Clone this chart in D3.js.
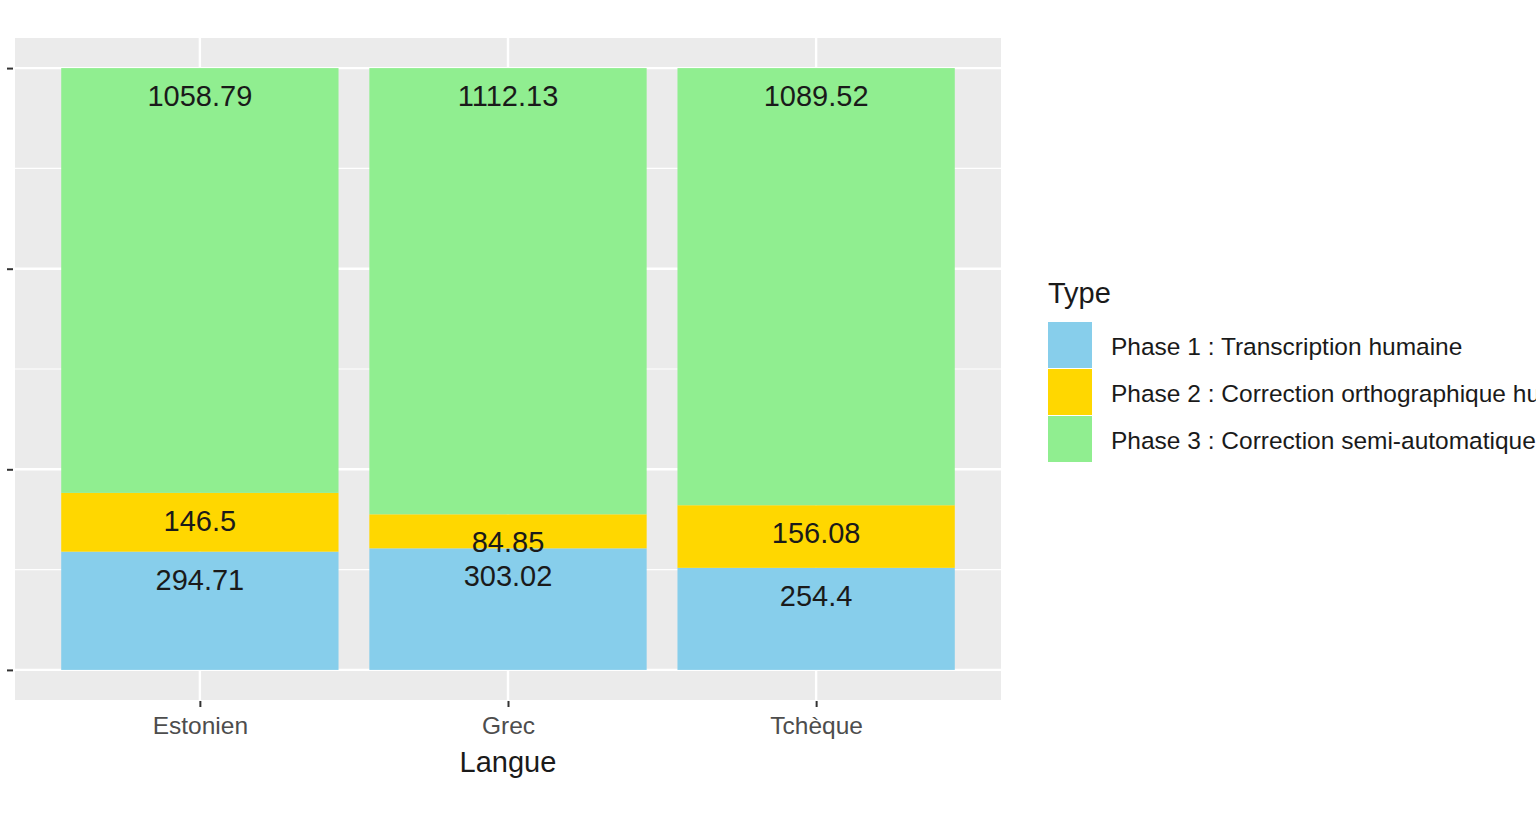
<!DOCTYPE html>
<html>
<head>
<meta charset="utf-8">
<script src="https://cdn.jsdelivr.net/npm/d3@7"></script>
<style>
  body { margin: 0; background: #fff; overflow: hidden; }
  text { font-family: "Liberation Sans", Arial, sans-serif; }
</style>
</head>
<body>
<div id="wrapper"></div>
<script>
// data
var langues = ["Estonien", "Grec", "Tchèque"];
var phases = [
    "Phase 1 : Transcription humaine",
    "Phase 2 : Correction orthographique humaine",
    "Phase 3 : Correction semi-automatique"
];
var phase1 = [294.71, 303.02, 254.4];
var phase2 = [146.5, 84.85, 156.08];
var phase3 = [1058.79, 1112.13, 1089.52];
var couleurs = ["#87CEEB", "#FFD700", "#90EE90"];
var yBreaks = [0, 1 / 3, 2 / 3, 1];
var yMinor = [1 / 6, 1 / 2, 5 / 6];

function build() {
    var dimension = {
        width: 1536,
        height: 816,
        margin: { top: 38, right: 535, bottom: 116, left: 15 }
    };
    dimension.boundedWidth = dimension.width - dimension.margin.left - dimension.margin.right;
    dimension.boundedHeight = dimension.height - dimension.margin.top - dimension.margin.bottom;

    var rows = langues.map(function (l, i) {
        var r = { langue: l };
        r[phases[0]] = phase1[i];
        r[phases[1]] = phase2[i];
        r[phases[2]] = phase3[i];
        return r;
    });

    var series = d3.stack()
        .keys(phases)
        .offset(d3.stackOffsetExpand)(rows);

    var svg = d3.select("#wrapper")
        .append("svg")
        .attr("width", dimension.width)
        .attr("height", dimension.height);

    var bounds = svg.append("g")
        .attr("transform", "translate(" + dimension.margin.left + "," + dimension.margin.top + ")");

    var x = d3.scalePoint()
        .domain(langues)
        .range([0, dimension.boundedWidth])
        .padding(0.6);
    var barW = x.step() * 0.9;

    var y = d3.scaleLinear()
        .domain([-0.05, 1.05])
        .range([dimension.boundedHeight, 0]);

    // panel
    bounds.append("rect")
        .attr("width", dimension.boundedWidth)
        .attr("height", dimension.boundedHeight)
        .attr("fill", "#EBEBEB");

    bounds.selectAll(".minor")
        .data(yMinor)
        .enter().append("line")
        .attr("x1", 0).attr("x2", dimension.boundedWidth)
        .attr("y1", function (d) { return y(d); })
        .attr("y2", function (d) { return y(d); })
        .attr("stroke", "#fff").attr("stroke-width", 1.2);

    bounds.selectAll(".major")
        .data(yBreaks)
        .enter().append("line")
        .attr("x1", 0).attr("x2", dimension.boundedWidth)
        .attr("y1", function (d) { return y(d); })
        .attr("y2", function (d) { return y(d); })
        .attr("stroke", "#fff").attr("stroke-width", 2.4);

    bounds.selectAll(".vmajor")
        .data(langues)
        .enter().append("line")
        .attr("x1", function (d) { return x(d); })
        .attr("x2", function (d) { return x(d); })
        .attr("y1", 0).attr("y2", dimension.boundedHeight)
        .attr("stroke", "#fff").attr("stroke-width", 2.4);

    // bars
    var groups = bounds.selectAll(".serie")
        .data(series)
        .enter().append("g")
        .attr("fill", function (d, i) { return couleurs[i]; });

    groups.selectAll("rect")
        .data(function (d) { return d; })
        .enter().append("rect")
        .attr("x", function (d) { return x(d.data.langue) - barW / 2; })
        .attr("width", barW)
        .attr("y", function (d) { return y(d[1]); })
        .attr("height", function (d) { return y(d[0]) - y(d[1]); });

    // value labels, hung just under each segment top
    series.forEach(function (s) {
        bounds.selectAll(null)
            .data(s)
            .enter().append("text")
            .attr("x", function (d) { return x(d.data.langue); })
            .attr("y", function (d) { return y(d[1]) + 28; })
            .attr("text-anchor", "middle")
            .attr("dominant-baseline", "central")
            .attr("font-size", 29)
            .attr("fill", "#1a1a1a")
            .text(function (d) { return d.data[s.key]; });
    });

    // axes
    var yAxis = d3.axisLeft(y).tickValues(yBreaks).tickSize(6).tickFormat("");
    var ya = bounds.append("g").attr("transform", "translate(-2,0)").call(yAxis);
    ya.select(".domain").remove();
    ya.selectAll("line").attr("stroke", "#333").attr("stroke-width", 2);

    var xAxis = d3.axisBottom(x).tickSize(6).tickPadding(10);
    var xa = bounds.append("g")
        .attr("transform", "translate(0," + (dimension.boundedHeight + 1) + ")")
        .call(xAxis);
    xa.select(".domain").remove();
    xa.selectAll("line").attr("stroke", "#333").attr("stroke-width", 2);
    xa.selectAll("text")
        .attr("font-size", 24.5)
        .attr("fill", "#4D4D4D")
        .attr("font-family", "Liberation Sans, Arial, sans-serif");

    bounds.append("text")
        .attr("x", dimension.boundedWidth / 2)
        .attr("y", dimension.boundedHeight + 62)
        .attr("text-anchor", "middle")
        .attr("dominant-baseline", "central")
        .attr("font-size", 29)
        .attr("fill", "#1a1a1a")
        .text("Langue");

    // legend
    var legend = svg.append("g").attr("transform", "translate(1048,0)");
    legend.append("text")
        .attr("x", 0).attr("y", 293)
        .attr("dominant-baseline", "central")
        .attr("font-size", 29)
        .attr("fill", "#1a1a1a")
        .text("Type");

    var item = legend.selectAll(".item")
        .data(phases)
        .enter().append("g")
        .attr("transform", function (d, i) { return "translate(0," + (322 + i * 47) + ")"; });
    item.append("rect")
        .attr("width", 44).attr("height", 46)
        .attr("fill", function (d, i) { return couleurs[i]; });
    item.append("text")
        .attr("x", 63).attr("y", 24)
        .attr("dominant-baseline", "central")
        .attr("font-size", 24.5)
        .attr("fill", "#1a1a1a")
        .text(function (d) { return d; });
}

build();
</script>
</body>
</html>
